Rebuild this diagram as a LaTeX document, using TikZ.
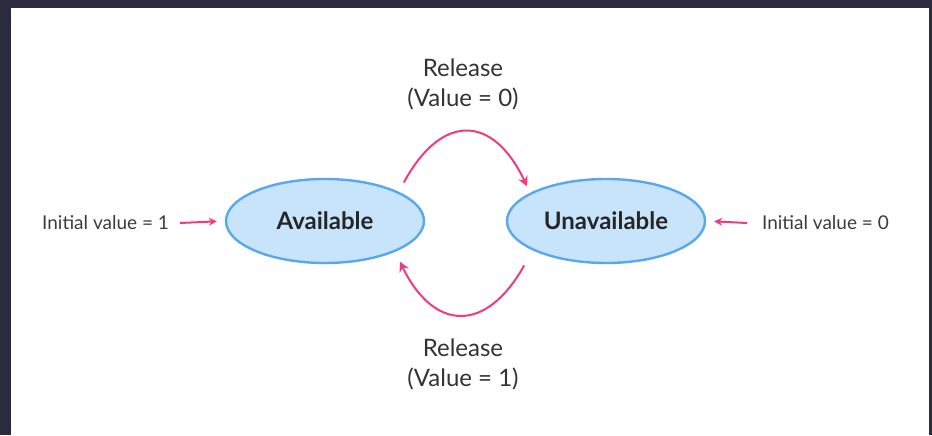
\documentclass[tikz,border=0pt]{standalone}
\usepackage{fontspec}
\setmainfont{Lato}
\usepackage{xcolor}
\usetikzlibrary{positioning,shapes.geometric,arrows.meta}

\definecolor{frame}{RGB}{43,43,63}
\definecolor{statefill}{RGB}{200,228,251}
\definecolor{stateline}{RGB}{88,168,240}
\definecolor{flowpink}{RGB}{240,58,132}
\definecolor{labelgray}{RGB}{60,60,60}

\begin{document}
\begin{tikzpicture}[
  x=0.5pt, y=0.5pt,
  statebox/.style={
    ellipse, draw=stateline, line width=1.2pt,
    fill=statefill, text centered,
    minimum width=99pt, minimum height=42pt,
    font=\bfseries\fontsize{12}{14}\selectfont, text=black!85
  },
  initlabel/.style={font=\fontsize{9.5}{11}\selectfont, text=labelgray},
  edgelabel/.style={font=\fontsize{12}{15}\selectfont, text=black!80, align=center},
  flow/.style={-{Stealth[length=5pt,width=5pt]}, line width=1pt, flowpink},
  initflow/.style={-{Stealth[length=4pt,width=4pt]}, line width=1pt, flowpink, shorten >=4pt}
]

% Frame
\fill[frame] (0,0) rectangle (932,435);
\fill[white] (11,0) rectangle (929,427);
\useasboundingbox (0,0) rectangle (932,435);

% Nodes
\node[statebox] (avail)   at (325,214) {Available};
\node[statebox] (unavail) at (606,214) {Unavailable};

\node[initlabel, anchor=east] (init1) at (176,212) {Initial value = 1};
\node[initlabel, anchor=west] (init0) at (755,212) {Initial value = 0};

\node[edgelabel] (reltop) at (463,351) {Release\\(Value = 0)};
\node[edgelabel] (relbot) at (463,71)  {Release\\(Value = 1)};

% Initial values
\draw[initflow] (init1.east) ++(4,0) coordinate (i1) (i1) -- (avail.west);
\draw[initflow] (init0.west) ++(-8,0) coordinate (i0) (i0) -- (unavail.east);

% Transitions
\draw[flow] ([shift={(8,8)}]avail.north east)
  .. controls +(38,70) and +(-34,72) .. ([shift={(-8,4)}]unavail.north west);
\draw[flow] ([shift={(-11,-14)}]unavail.south west)
  .. controls +(-38,-68) and +(34,-70) .. ([shift={(4,-10)}]avail.south east);

\end{tikzpicture}
\end{document}
